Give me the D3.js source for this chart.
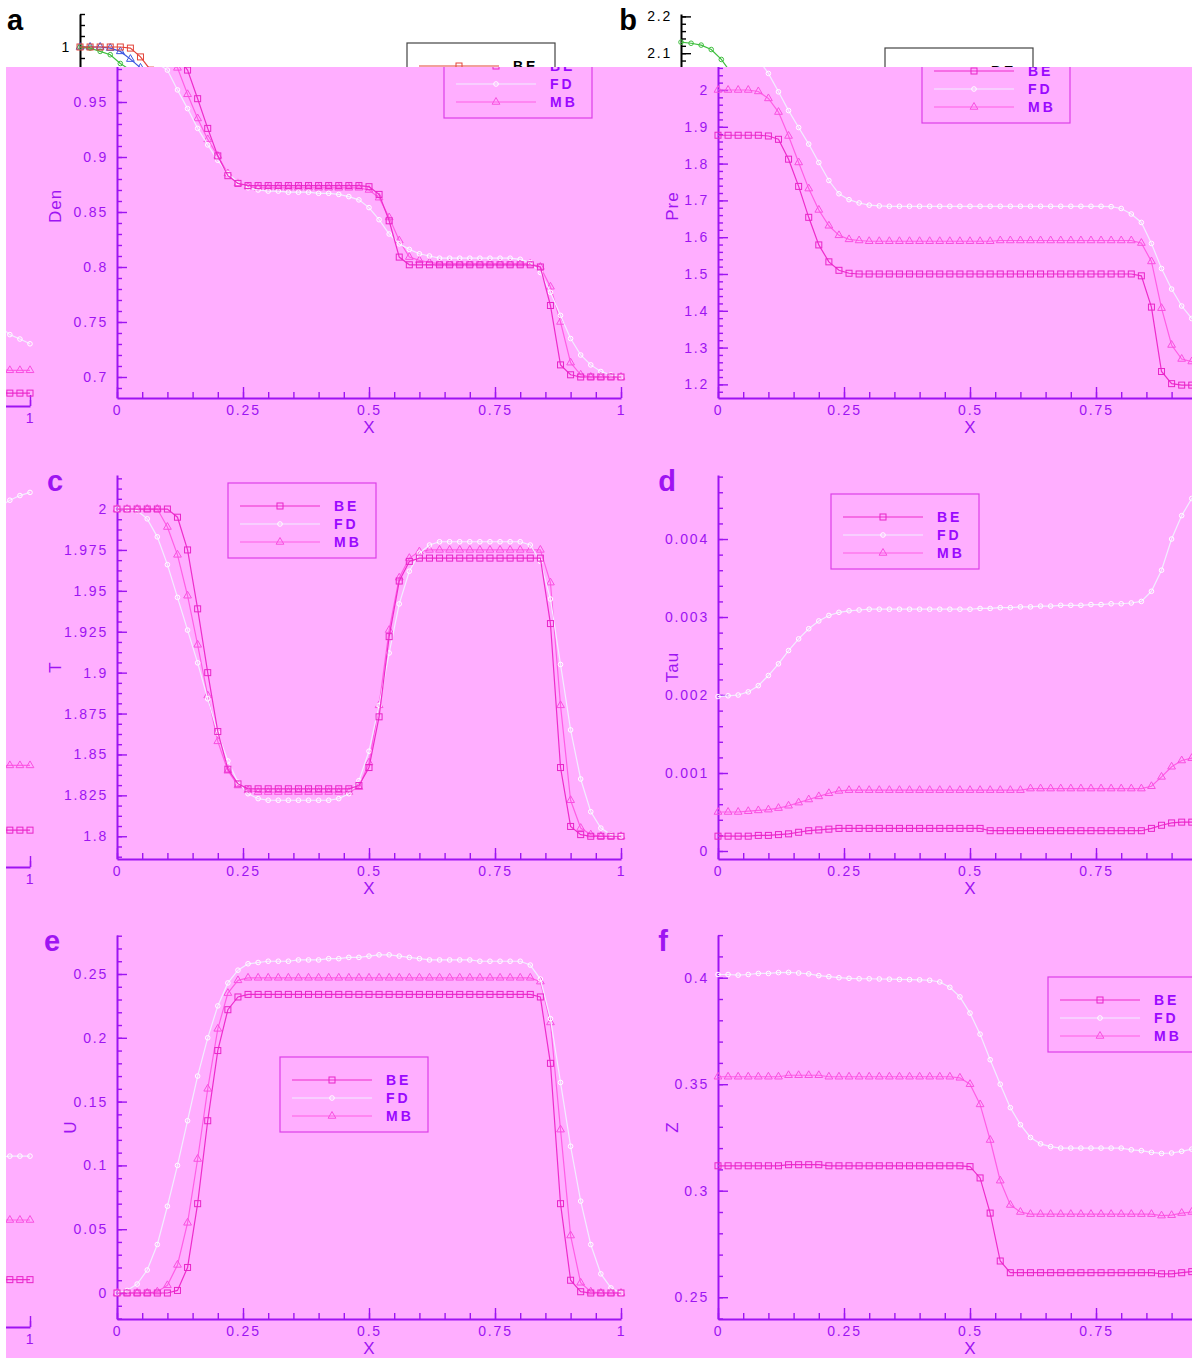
<!DOCTYPE html>
<html>
<head>
<meta charset="utf-8">
<style>
  body { margin: 0; background: #fff; }
  svg { display: block; font-family: Arial, 'Liberation Sans', sans-serif; }
</style>
</head>
<body>
<svg id="chart" width="1192" height="1358"></svg>
<script src="https://d3js.org/d3.v7.min.js"></script>
<script>
// ---- data ----
const series = ["BE", "FD", "MB"]

const xGrid = [0,0.02,0.04,0.06,0.08,0.1,0.12,0.14,0.16,0.18,0.2,0.22,0.24,0.26,0.28,0.3,0.32,0.34,0.36,0.38,0.4,0.42,0.44,0.46,0.48,0.5,0.52,0.54,0.56,0.58,0.6,0.62,0.64,0.66,0.68,0.7,0.72,0.74,0.76,0.78,0.8,0.82,0.84,0.86,0.88,0.9,0.92,0.94,0.96,0.98,1]

const den_BE = [1,1,1,1,1,0.999,0.991,0.979,0.953,0.926,0.901,0.883,0.876,0.874,0.874,0.874,0.874,0.874,0.874,0.874,0.874,0.874,0.874,0.874,0.874,0.873,0.866,0.842,0.809,0.802,0.802,0.802,0.802,0.802,0.802,0.802,0.802,0.802,0.802,0.802,0.802,0.802,0.800,0.765,0.711,0.702,0.700,0.700,0.700,0.700,0.700]
const den_FD = [1,0.999,0.996,0.993,0.985,0.979,0.961,0.944,0.926,0.911,0.897,0.885,0.877,0.872,0.870,0.869,0.869,0.868,0.868,0.868,0.867,0.867,0.866,0.864,0.861,0.854,0.843,0.830,0.821,0.816,0.812,0.810,0.808,0.808,0.808,0.808,0.808,0.808,0.808,0.808,0.807,0.804,0.795,0.777,0.756,0.735,0.720,0.711,0.705,0.702,0.700]
const den_MB = [1,1,1,0.999,0.996,0.989,0.981,0.957,0.935,0.916,0.901,0.885,0.876,0.873,0.872,0.872,0.872,0.872,0.872,0.872,0.872,0.872,0.872,0.872,0.872,0.870,0.863,0.845,0.824,0.809,0.806,0.804,0.803,0.803,0.803,0.803,0.803,0.803,0.803,0.803,0.803,0.803,0.800,0.782,0.750,0.713,0.702,0.700,0.700,0.700,0.700]

const pre_BE = [1.877,1.877,1.877,1.877,1.877,1.875,1.866,1.812,1.738,1.654,1.579,1.533,1.510,1.502,1.500,1.500,1.500,1.500,1.500,1.500,1.500,1.500,1.500,1.500,1.500,1.500,1.500,1.500,1.500,1.500,1.500,1.500,1.500,1.500,1.500,1.500,1.500,1.500,1.500,1.500,1.500,1.500,1.495,1.410,1.235,1.202,1.198,1.198,1.198,1.198,1.198]
const pre_FD = [2.130,2.127,2.122,2.110,2.083,2.045,1.995,1.944,1.898,1.853,1.803,1.754,1.718,1.702,1.693,1.687,1.685,1.684,1.684,1.684,1.684,1.684,1.684,1.684,1.684,1.684,1.684,1.684,1.684,1.684,1.684,1.684,1.684,1.684,1.684,1.684,1.684,1.684,1.684,1.683,1.678,1.663,1.640,1.583,1.515,1.459,1.413,1.379,1.357,1.345,1.332]
const pre_MB = [2,2,2,2,1.996,1.977,1.940,1.875,1.803,1.732,1.674,1.631,1.605,1.594,1.591,1.589,1.589,1.589,1.589,1.589,1.589,1.589,1.589,1.589,1.589,1.589,1.589,1.589,1.591,1.591,1.591,1.591,1.591,1.591,1.591,1.591,1.591,1.591,1.591,1.591,1.591,1.591,1.584,1.534,1.407,1.307,1.269,1.262,1.260,1.260,1.260]

const t_BE = [2,2,2,2,2,2,1.995,1.975,1.939,1.900,1.864,1.841,1.832,1.829,1.829,1.829,1.829,1.829,1.829,1.829,1.829,1.829,1.829,1.829,1.831,1.842,1.873,1.922,1.956,1.968,1.970,1.970,1.970,1.970,1.970,1.970,1.970,1.970,1.970,1.970,1.970,1.970,1.970,1.930,1.842,1.806,1.801,1.800,1.800,1.800,1.800]
const t_FD = [2,2,1.999,1.994,1.983,1.966,1.946,1.926,1.906,1.884,1.863,1.846,1.833,1.826,1.823,1.822,1.822,1.822,1.822,1.822,1.822,1.822,1.823,1.826,1.834,1.852,1.880,1.912,1.942,1.962,1.973,1.978,1.980,1.980,1.980,1.980,1.980,1.980,1.980,1.980,1.980,1.978,1.968,1.945,1.905,1.865,1.835,1.815,1.805,1.801,1.800]
const t_MB = [2,2,2,2,2,1.989,1.972,1.947,1.917,1.886,1.858,1.840,1.831,1.828,1.827,1.827,1.827,1.827,1.827,1.827,1.827,1.827,1.827,1.827,1.830,1.845,1.880,1.926,1.958,1.970,1.974,1.975,1.975,1.975,1.975,1.975,1.975,1.975,1.975,1.975,1.975,1.975,1.975,1.955,1.880,1.822,1.805,1.801,1.800,1.800,1.800]

const tau_BE = [0.00019,0.00019,0.00019,0.00019,0.0002,0.0002,0.00021,0.00022,0.00024,0.00026,0.00027,0.00028,0.00029,0.00029,0.00029,0.00029,0.00029,0.00029,0.00029,0.00029,0.00029,0.00029,0.00029,0.00029,0.00029,0.00029,0.00029,0.00026,0.00026,0.00026,0.00026,0.00026,0.00026,0.00026,0.00026,0.00026,0.00026,0.00026,0.00026,0.00026,0.00026,0.00026,0.00026,0.00029,0.00033,0.00036,0.00037,0.00037,0.00037,0.00037,0.00037]
const tau_FD = [0.00198,0.00199,0.002,0.00204,0.00212,0.00225,0.0024,0.00257,0.00272,0.00285,0.00295,0.00302,0.00306,0.00308,0.00309,0.0031,0.0031,0.0031,0.0031,0.0031,0.0031,0.0031,0.0031,0.0031,0.0031,0.0031,0.00311,0.00311,0.00312,0.00312,0.00313,0.00313,0.00314,0.00314,0.00315,0.00315,0.00315,0.00316,0.00316,0.00317,0.00317,0.00318,0.0032,0.00333,0.0036,0.004,0.0043,0.00452,0.0046,0.00466,0.0047]
const tau_MB = [0.0005,0.0005,0.0005,0.00051,0.00052,0.00053,0.00055,0.00058,0.00062,0.00066,0.0007,0.00074,0.00077,0.00078,0.00078,0.00078,0.00078,0.00078,0.00078,0.00078,0.00078,0.00078,0.00078,0.00078,0.00078,0.00078,0.00078,0.00078,0.00078,0.00078,0.00078,0.0008,0.0008,0.0008,0.0008,0.0008,0.0008,0.0008,0.0008,0.0008,0.0008,0.0008,0.0008,0.00083,0.00095,0.00108,0.00116,0.00119,0.0012,0.0012,0.0012]

const u_BE = [0,0,0,0,0,0,0.002,0.02,0.07,0.135,0.19,0.222,0.232,0.234,0.234,0.234,0.234,0.234,0.234,0.234,0.234,0.234,0.234,0.234,0.234,0.234,0.234,0.234,0.234,0.234,0.234,0.234,0.234,0.234,0.234,0.234,0.234,0.234,0.234,0.234,0.234,0.234,0.232,0.18,0.07,0.01,0.001,0,0,0,0]
const u_FD = [0,0.002,0.007,0.018,0.038,0.068,0.1,0.135,0.17,0.2,0.225,0.243,0.253,0.258,0.259,0.26,0.26,0.26,0.261,0.261,0.261,0.262,0.262,0.263,0.263,0.264,0.265,0.265,0.264,0.263,0.262,0.261,0.261,0.261,0.261,0.261,0.26,0.26,0.26,0.26,0.26,0.257,0.246,0.215,0.165,0.115,0.072,0.038,0.015,0.004,0]
const u_MB = [0,0,0,0,0.001,0.006,0.022,0.055,0.105,0.16,0.207,0.235,0.245,0.247,0.247,0.247,0.247,0.247,0.247,0.247,0.247,0.247,0.247,0.247,0.247,0.247,0.247,0.247,0.247,0.247,0.247,0.247,0.247,0.247,0.247,0.247,0.247,0.247,0.247,0.247,0.247,0.247,0.244,0.212,0.128,0.045,0.008,0.001,0,0,0]

const z_BE = [0.3117,0.3117,0.3117,0.3117,0.3117,0.3117,0.3117,0.3122,0.3122,0.3122,0.3122,0.3117,0.3117,0.3117,0.3117,0.3117,0.3117,0.3117,0.3117,0.3117,0.3117,0.3117,0.3117,0.3117,0.3117,0.3113,0.306,0.2895,0.267,0.2615,0.2615,0.2615,0.2615,0.2615,0.2615,0.2615,0.2615,0.2615,0.2615,0.2615,0.2615,0.2615,0.2615,0.2615,0.261,0.261,0.2615,0.262,0.262,0.262,0.262]
const z_FD = [0.4015,0.4015,0.4012,0.4015,0.402,0.402,0.4024,0.4025,0.4022,0.4018,0.401,0.4005,0.4,0.3997,0.3995,0.3995,0.3994,0.3993,0.3992,0.3991,0.399,0.3988,0.398,0.3955,0.391,0.3834,0.3735,0.3615,0.35,0.339,0.331,0.325,0.322,0.3207,0.32,0.32,0.32,0.32,0.32,0.32,0.32,0.3192,0.3188,0.318,0.3175,0.3177,0.3185,0.3195,0.32,0.32,0.32]
const z_MB = [0.3535,0.3535,0.3535,0.3535,0.3535,0.3535,0.3535,0.3542,0.3542,0.3542,0.3542,0.3535,0.3535,0.3535,0.3535,0.3535,0.3535,0.3535,0.3535,0.3535,0.3535,0.3535,0.3535,0.3535,0.353,0.35,0.3405,0.3238,0.3047,0.2933,0.29,0.289,0.289,0.289,0.289,0.289,0.289,0.289,0.289,0.289,0.289,0.289,0.289,0.289,0.2883,0.2885,0.2895,0.29,0.29,0.29,0.29]

// ticks
const xTicks = [0, 0.25, 0.5, 0.75, 1]
const xLabels = ["0", "0.25", "0.5", "0.75", "1"]
const denTicks = [0.7, 0.75, 0.8, 0.85, 0.9, 0.95, 1]
const denLabels = ["0.7", "0.75", "0.8", "0.85", "0.9", "0.95", "1"]
const preTicks = [1.2, 1.3, 1.4, 1.5, 1.6, 1.7, 1.8, 1.9, 2, 2.1, 2.2]
const preLabels = ["1.2", "1.3", "1.4", "1.5", "1.6", "1.7", "1.8", "1.9", "2", "2.1", "2.2"]
const tTicks = [1.8, 1.825, 1.85, 1.875, 1.9, 1.925, 1.95, 1.975, 2]
const tLabels = ["1.8", "1.825", "1.85", "1.875", "1.9", "1.925", "1.95", "1.975", "2"]
const tauTicks = [0, 0.001, 0.002, 0.003, 0.004]
const tauLabels = ["0", "0.001", "0.002", "0.003", "0.004"]
const uTicks = [0, 0.05, 0.1, 0.15, 0.2, 0.25]
const uLabels = ["0", "0.05", "0.1", "0.15", "0.2", "0.25"]
const zTicks = [0.25, 0.3, 0.35, 0.4]
const zLabels = ["0.25", "0.3", "0.35", "0.4"]

// ---- layout (original frame coordinates) ----
const plotW = 504
const panels = [
  { letter: "a", title: "Den", left: 80, top: 14, bottom: 398, domain: [0.6809, 1.03], ticks: denTicks, labels: denLabels, minor: 0.01,
    data: { BE: den_BE, FD: den_FD, MB: den_MB }, legend: [407, 43], letterDx: -65, titleDx: -62 },
  { letter: "b", title: "Pre", left: 681, top: 14, bottom: 398, domain: [1.163, 2.2065], ticks: preTicks, labels: preLabels, minor: 0.02,
    data: { BE: pre_BE, FD: pre_FD, MB: pre_MB }, legend: [885, 48], letterDx: -53, titleDx: -46 },
  { letter: "c", title: "T", left: 80, top: 475, bottom: 859, domain: [1.7861, 2.0208], ticks: tTicks, labels: tLabels, minor: 0.00625,
    data: { BE: t_BE, FD: t_FD, MB: t_MB }, legend: [191, 483], letterDx: -62, titleDx: -62 },
  { letter: "d", title: "Tau", left: 681, top: 475, bottom: 859, domain: [-0.0001026, 0.004821], ticks: tauTicks, labels: tauLabels, minor: 0.0002,
    data: { BE: tau_BE, FD: tau_FD, MB: tau_MB }, legend: [794, 494], letterDx: -51, titleDx: -46 },
  { letter: "e", title: "U", left: 80, top: 935, bottom: 1319, domain: [-0.02038, 0.28056], ticks: uTicks, labels: uLabels, minor: 0.01,
    data: { BE: u_BE, FD: u_FD, MB: u_MB }, legend: [243, 1057], letterDx: -65, titleDx: -47 },
  { letter: "f", title: "Z", left: 681, top: 935, bottom: 1319, domain: [0.23977, 0.42005], ticks: zTicks, labels: zLabels, minor: 0.01,
    data: { BE: z_BE, FD: z_FD, MB: z_MB }, legend: [1011, 977], letterDx: -55, titleDx: -46 }
]

const original = {
  axis: "#000", text: "#000", bg: "#fff", box: "#444", legendText: "#000",
  color: { BE: "#e3443a", FD: "#3fbf3f", MB: "#3a55e0" },
  marker: { BE: "#e3443a", FD: "#3fbf3f", MB: "#3a55e0" }
}
const pink = {
  axis: "#9e14f2", text: "#9e14f2", bg: "#ffaeff", box: "#dc3ee8", legendText: "#9a08ff",
  color: { BE: "#ee2ccc", FD: "#f2eeff", MB: "#ff5ee6" },
  marker: { BE: "#e824c8", FD: "#ffffff", MB: "#f850e0" }
}

let svg = d3.select("#chart")

svg.append("rect").attr("width", 1192).attr("height", 1358).attr("fill", "#fff")

function minorValues(domain, step) {
  let lo = Math.ceil(domain[0] / step - 1e-6)
  let hi = Math.floor(domain[1] / step + 1e-6)
  return d3.range(lo, hi + 1).map(k => +(k * step).toFixed(6))
}

function styleAxis(g, th) {
  g.attr("color", th.axis)
    .attr("font-size", 14)
    .attr("font-family", "Arial, 'Liberation Sans', sans-serif")
  g.selectAll(".tick line").attr("stroke-width", 1.4)
  g.selectAll(".tick text").attr("letter-spacing", 1.8).attr("fill", th.text)
  g.select(".domain").attr("stroke-width", 2)
}

function marker(sel, key, th) {
  let c = th.marker[key]
  if (key === "BE") {
    sel.append("rect").attr("x", -3).attr("y", -3).attr("width", 6).attr("height", 6)
      .attr("fill", "none").attr("stroke", c).attr("stroke-width", 1)
  } else if (key === "MB") {
    sel.append("path").attr("d", d3.symbol(d3.symbolTriangle, 26)())
      .attr("fill", "none").attr("stroke", c).attr("stroke-width", 1)
  } else {
    sel.append("circle").attr("r", 2.3)
      .attr("fill", "none").attr("stroke", c).attr("stroke-width", 1)
  }
}

function drawFigure(root, th) {
  panels.forEach(p => {
    let g = root.append("g")
    let x = d3.scaleLinear().domain([0, 1]).range([p.left, p.left + plotW])
    let y = d3.scaleLinear().domain(p.domain).range([p.bottom, p.top])

    // minor ticks
    g.append("g")
      .attr("transform", `translate(${p.left},0)`)
      .call(d3.axisLeft(y).tickValues(minorValues(p.domain, p.minor)).tickSize(-5).tickFormat(""))
      .call(s => s.select(".domain").remove())
      .call(s => styleAxis(s, th))
    g.append("g")
      .attr("transform", `translate(0,${p.bottom})`)
      .call(d3.axisBottom(x).tickValues(minorValues([0, 1], 0.05)).tickSize(-6).tickFormat(""))
      .call(s => s.select(".domain").remove())
      .call(s => styleAxis(s, th))

    // major axes
    g.append("g")
      .attr("transform", `translate(${p.left},0)`)
      .call(d3.axisLeft(y).tickValues(p.ticks).tickFormat((d, i) => p.labels[i])
        .tickSize(-10).tickSizeOuter(0).tickPadding(9))
      .call(s => styleAxis(s, th))
    g.append("g")
      .attr("transform", `translate(0,${p.bottom})`)
      .call(d3.axisBottom(x).tickValues(xTicks).tickFormat((d, i) => xLabels[i])
        .tickSize(-11).tickSizeOuter(0).tickPadding(7))
      .call(s => styleAxis(s, th))

    // titles
    g.append("text")
      .attr("x", x(0.5)).attr("y", p.bottom + 35)
      .attr("text-anchor", "middle").attr("font-size", 17).attr("fill", th.text)
      .text("X")
    g.append("text")
      .attr("transform", `translate(${p.left + p.titleDx},${(p.top + p.bottom) / 2}) rotate(-90)`)
      .attr("text-anchor", "middle").attr("dominant-baseline", "central")
      .attr("font-size", 17).attr("letter-spacing", 1).attr("fill", th.text)
      .text(p.title)
    g.append("text")
      .attr("x", p.left + p.letterDx).attr("y", p.top + 6)
      .attr("text-anchor", "middle").attr("dominant-baseline", "central")
      .attr("font-size", 29).attr("font-weight", "bold").attr("fill", th.text)
      .text(p.letter)

    // curves
    let line = d3.line().x(d => x(d[0])).y(d => y(d[1]))
    series.slice().reverse().forEach(key => {
      let pts = xGrid.map((v, i) => [v, p.data[key][i]])
      g.append("path")
        .datum(pts)
        .attr("fill", "none")
        .attr("stroke", th.color[key])
        .attr("stroke-width", 1.2)
        .attr("d", line)
      g.append("g")
        .selectAll("g")
        .data(pts)
        .join("g")
        .attr("transform", d => `translate(${x(d[0])},${y(d[1])})`)
        .each(function () { marker(d3.select(this), key, th) })
    })

    // legend
    let lg = g.append("g").attr("transform", `translate(${p.legend[0]},${p.legend[1]})`)
    lg.append("rect").attr("width", 148).attr("height", 75)
      .attr("fill", th.bg).attr("stroke", th.box).attr("stroke-width", 1.2)
    series.forEach((key, i) => {
      let ly = 23 + i * 18
      lg.append("line").attr("x1", 12).attr("x2", 92).attr("y1", ly).attr("y2", ly)
        .attr("stroke", th.color[key]).attr("stroke-width", 1.2)
      marker(lg.append("g").attr("transform", `translate(52,${ly})`), key, th)
      lg.append("text").attr("x", 106).attr("y", ly)
        .attr("dominant-baseline", "central")
        .attr("font-size", 14).attr("font-weight", "bold").attr("letter-spacing", 3)
        .attr("fill", th.legendText)
        .text(key)
    })
  })
}

// drop texts that end up fully hidden (under the overlay or outside the clip)
function pruneTexts(layer, boxes) {
  layer.selectAll("text").each(function () {
    let r = this.getBoundingClientRect()
    let seen = boxes.some(b => r.right > b[0] && r.left < b[2] && r.bottom > b[1] && r.top < b[3])
    if (!seen) d3.select(this).remove()
  })
}

// original figure, only its top strip stays visible
let origLayer = svg.append("g")
drawFigure(origLayer, original)
pruneTexts(origLayer, [[0, 0, 1192, 67], [0, 0, 6, 1358]])

// tinted, shifted copy on top
svg.append("defs").append("clipPath").attr("id", "pinkClip")
  .append("rect").attr("x", 6).attr("y", 67).attr("width", 1186).attr("height", 1291)

let pinkLayer = svg.append("g").attr("clip-path", "url(#pinkClip)")
pinkLayer.append("rect").attr("x", 6).attr("y", 67).attr("width", 1186).attr("height", 1291).attr("fill", pink.bg)
drawFigure(pinkLayer.append("g").attr("transform", "translate(37,0)"), pink)
drawFigure(pinkLayer.append("g").attr("transform", "translate(-1155,8)"), pink)
pruneTexts(pinkLayer, [[6, 67, 1192, 1358]])
</script>
</body>
</html>
